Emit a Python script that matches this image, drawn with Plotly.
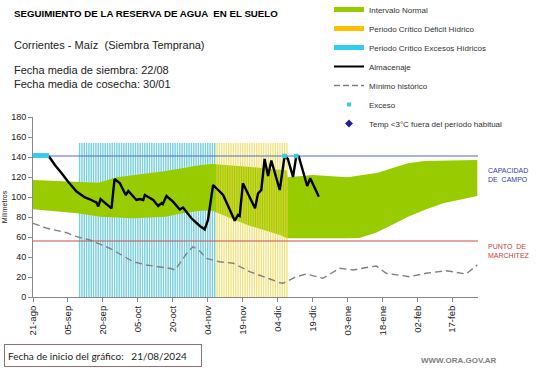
import pandas as pd
import plotly.graph_objects as go

# ---------------- data ----------------
fecha_inicio = "2024-08-21"
fecha_fin = "2025-02-28"

tick_fechas = ["2024-08-21", "2024-09-05", "2024-09-20", "2024-10-05", "2024-10-20",
               "2024-11-04", "2024-11-19", "2024-12-04", "2024-12-19", "2025-01-03",
               "2025-01-18", "2025-02-02", "2025-02-17"]
tick_textos = ["21-ago", "05-sep", "20-sep", "05-oct", "20-oct", "04-nov", "19-nov",
               "04-dic", "19-dic", "03-ene", "18-ene", "02-feb", "17-feb"]
y_ticks = [0, 20, 40, 60, 80, 100, 120, 140, 160, 180]

capacidad_campo = 141
punto_marchitez = 56

# periodos criticos (dias diarios con barra)
periodo_excesos = ("2024-09-10", "2024-11-07")
periodo_deficit = ("2024-11-08", "2024-12-08")
altura_periodo = 154

# Almacenaje (dias desde inicio, mm)
alm_dias = [0, 6, 7, 9.4, 12.3, 15, 18.7, 22.3, 24.4, 27.3, 28, 29, 33.7, 35, 37.3, 39.8,
            40.9, 44.4, 45.9, 47.3, 48, 51.6, 53.7, 55.2, 55.7, 57.3, 60.1, 63, 64.4, 68,
            71.6, 73.7, 75.1, 76.6, 77.3, 81.6, 86.6, 88, 88.7, 90.1, 95.3, 96.6, 98,
            99.4, 100.9, 102.3, 105.9, 108, 109.4, 111.6, 113, 114.1, 117.7, 119, 122.7]
alm_vals = [142, 141.5, 140, 132, 123.7, 115.5, 105.5, 99.5, 97.7, 94.3, 90.5, 98, 88.7,
            118, 113.7, 102, 106, 97, 98, 97, 102, 97, 91, 94, 93, 101, 95.3, 87.5, 89.5,
            78.7, 71, 67.7, 77, 100, 112, 102, 76.3, 82, 81, 113.7, 88.7, 103.7, 107, 138,
            121, 136.5, 107, 141, 138, 120, 141, 140.3, 111, 118.7, 100.3]

# Minimo historico
min_dias = [0, 6, 14.4, 18.7, 24.4, 33, 43, 48.7, 58.7, 61, 66, 68.7, 72, 74.3, 80, 86,
            93, 98.7, 106, 107.3, 113, 117.3, 124.4, 131.6, 137.3, 142, 147.3, 151.6,
            161.6, 168.7, 177.3, 185.9, 190.7]
min_vals = [73.7, 68.7, 64.3, 60.3, 57, 48.7, 35.3, 32, 28.7, 27, 43.7, 50.3, 45, 38.7,
            35.3, 33.7, 25.3, 20.3, 14.3, 13.7, 20.3, 23, 18.7, 28.7, 27, 29, 31, 23.7,
            20.3, 23.7, 26.3, 23, 32]

# Intervalo normal
sup_dias = [0, 19, 28, 36, 43, 57, 72, 77, 92, 106, 109, 109.3, 120, 135, 141, 148, 154,
            161, 168, 180, 190.7]
sup_vals = [117, 115.5, 114.3, 119.7, 122, 126, 132, 133, 130.3, 127, 126.5, 119.7, 122,
            119.7, 122, 124.3, 128.7, 133.7, 136, 136.3, 137]
inf_dias = [0, 19, 29, 43, 57, 64, 72, 77, 92, 106, 109, 120, 135, 140, 147, 154, 161,
            168, 176, 183, 190.7]
inf_vals = [87.7, 83.7, 80.3, 78.7, 80.3, 83.7, 86.3, 86.3, 72, 62, 58.7, 58.7, 58.7, 59,
            64, 72, 80.3, 87, 93.7, 97, 101]

# Excesos
exc_dias = [0, 1, 2, 3, 4, 5, 6, 108, 113]
exc_vals = [141.5, 141.5, 141.5, 141.5, 141.5, 141.5, 141.5, 141, 141]

# ---------------- helpers ----------------
t0 = pd.Timestamp(fecha_inicio)


def fechas(dias):
    return [t0 + pd.to_timedelta(d, unit="D") for d in dias]


DAY_MS = 86400000
W, H, L, T, R, B = 541, 368, 33, 117, 63, 71
PW, PH = W - L - R, H - T - B


def px(x):
    return (x - L) / PW


def py(y):
    return (H - B - y) / PH


FONT = "Liberation Sans, Arial, sans-serif"

fig = go.Figure()

# ---- legend entries (library legend) ----
leg = [
    dict(name="Intervalo Normal", mode="lines", line=dict(color="#99CC00", width=5)),
    dict(name="Periodo Crítico Déficit Hídrico", mode="lines", line=dict(color="#FFC000", width=5)),
    dict(name="Periodo Crítico Excesos Hídricos", mode="lines", line=dict(color="#33CCEE", width=5)),
    dict(name="Almacenaje", mode="lines", line=dict(color="black", width=2)),
    dict(name="Mínimo histórico", mode="lines", line=dict(color="#808080", width=1.5, dash="6px,3px")),
    dict(name="Exceso", mode="markers", marker=dict(color="#33CCEE", size=4, symbol="square")),
    dict(name="Temp <3°C fuera del período habitual", mode="markers",
         marker=dict(color="#1F1F9F", size=6, symbol="diamond")),
]
for d in leg:
    fig.add_trace(go.Scatter(x=[None], y=[None], showlegend=True, hoverinfo="skip",
                             xaxis="x2", yaxis="y2", **d))

# ---- base subplot: blue period bars + green band ----
dias_exc = pd.date_range(*periodo_excesos, freq="D")
fig.add_trace(go.Bar(x=dias_exc, y=[altura_periodo] * len(dias_exc), width=0.6 * DAY_MS,
                     marker=dict(color="#76CEDF", line=dict(width=0)), showlegend=False))

band_x = fechas(sup_dias) + fechas(inf_dias)[::-1]
band_y = sup_vals + inf_vals[::-1]
fig.add_trace(go.Scatter(x=band_x, y=band_y, fill="toself", fillcolor="#99CC00",
                         mode="lines", line=dict(width=0, color="#99CC00"), showlegend=False))

# ---- overlay subplot: yellow bars + lines ----
dias_def = pd.date_range(*periodo_deficit, freq="D")
fig.add_trace(go.Bar(x=dias_def, y=[altura_periodo] * len(dias_def), width=0.6 * DAY_MS,
                     marker=dict(color="rgba(236,214,70,0.68)", line=dict(width=0)),
                     showlegend=False, xaxis="x2", yaxis="y2"))

fig.add_trace(go.Scatter(x=[fecha_inicio, fecha_fin], y=[capacidad_campo] * 2, mode="lines",
                         line=dict(color="#4F6FC0", width=1), showlegend=False,
                         xaxis="x2", yaxis="y2"))
fig.add_trace(go.Scatter(x=[fecha_inicio, fecha_fin], y=[punto_marchitez] * 2, mode="lines",
                         line=dict(color="#C8504D", width=1.2), showlegend=False,
                         xaxis="x2", yaxis="y2"))
fig.add_trace(go.Scatter(x=fechas(min_dias), y=min_vals, mode="lines",
                         line=dict(color="#808080", width=1.4, dash="7px,4px"),
                         showlegend=False, xaxis="x2", yaxis="y2"))
fig.add_trace(go.Scatter(x=fechas(alm_dias), y=alm_vals, mode="lines",
                         line=dict(color="black", width=2.4), showlegend=False,
                         xaxis="x2", yaxis="y2"))
fig.add_trace(go.Scatter(x=fechas(exc_dias), y=exc_vals, mode="markers",
                         marker=dict(color="#33CCEE", size=4.5, symbol="square"),
                         showlegend=False, xaxis="x2", yaxis="y2"))

axis_common = dict(showgrid=False, zeroline=False)
fig.update_layout(
    width=W, height=H,
    margin=dict(l=L, r=R, t=T, b=B, pad=0, autoexpand=False),
    paper_bgcolor="white", plot_bgcolor="white",
    font=dict(family=FONT, size=9, color="#222"),
    barmode="overlay",
    xaxis=dict(type="date", range=[fecha_inicio, fecha_fin], tickvals=tick_fechas,
               ticktext=tick_textos, tickangle=-90, ticks="outside", ticklen=4,
               tickcolor="#888", showline=True, linecolor="#888", linewidth=1,
               tickfont=dict(size=9.5, color="#222"), automargin=False, **axis_common),
    yaxis=dict(range=[0, 180], tickvals=y_ticks, ticks="outside", ticklen=4,
               tickcolor="#888", showline=True, linecolor="#888", linewidth=1,
               tickfont=dict(size=9, color="#222"), automargin=False,
               title=dict(text="Milímetros", font=dict(size=7), standoff=2), **axis_common),
    xaxis2=dict(type="date", range=[fecha_inicio, fecha_fin], overlaying="x", anchor="y2",
                visible=False, **axis_common),
    yaxis2=dict(range=[0, 180], overlaying="y", anchor="x2", visible=False, **axis_common),
    legend=dict(x=px(329), y=py(-5), xanchor="left", yanchor="top", bgcolor="rgba(0,0,0,0)",
                font=dict(size=8, color="#333"), itemwidth=30, tracegroupgap=0,
                borderwidth=0, traceorder="normal"),
)

ann = [
    dict(x=px(12), y=py(13), text="<b>SEGUIMIENTO DE LA RESERVA DE AGUA  EN EL SUELO</b>",
         font=dict(size=9.7, color="black"), xanchor="left"),
    dict(x=px(12), y=py(45), text="Corrientes - Maíz  (Siembra Temprana)",
         font=dict(size=11, color="#222"), xanchor="left"),
    dict(x=px(12), y=py(77.5), text="Fecha media de siembra: 22/08<br>Fecha media de cosecha: 30/01",
         font=dict(size=11, color="#222"), xanchor="left", align="left"),
    dict(x=px(486), y=py(175), text="CAPACIDAD<br>DE  CAMPO",
         font=dict(size=7, color="#3A3AA8"), xanchor="left", align="left"),
    dict(x=px(486), y=py(251), text="PUNTO  DE<br>MARCHITEZ",
         font=dict(size=7, color="#C83C3C"), xanchor="left", align="left"),
    dict(x=px(4), y=py(355), text="Fecha de inicio del gráfico:   21/08/2024",
         font=dict(size=10, color="#222", family="Lato, Liberation Sans, sans-serif"),
         xanchor="left", bordercolor="#8C7474", borderwidth=1, borderpad=3,
         width=190, height=15, align="left"),
    dict(x=px(498), y=py(360), text="<b>WWW.ORA.GOV.AR</b>",
         font=dict(size=8, color="#808080"), xanchor="right"),
]
for a in ann:
    a.update(xref="paper", yref="paper", yanchor="middle", showarrow=False)
    fig.add_annotation(**a)

fig.write_html("out.html", config={"displayModeBar": False, "staticPlot": True},
               post_script="document.body.style.margin='0';document.body.style.padding='0';")
